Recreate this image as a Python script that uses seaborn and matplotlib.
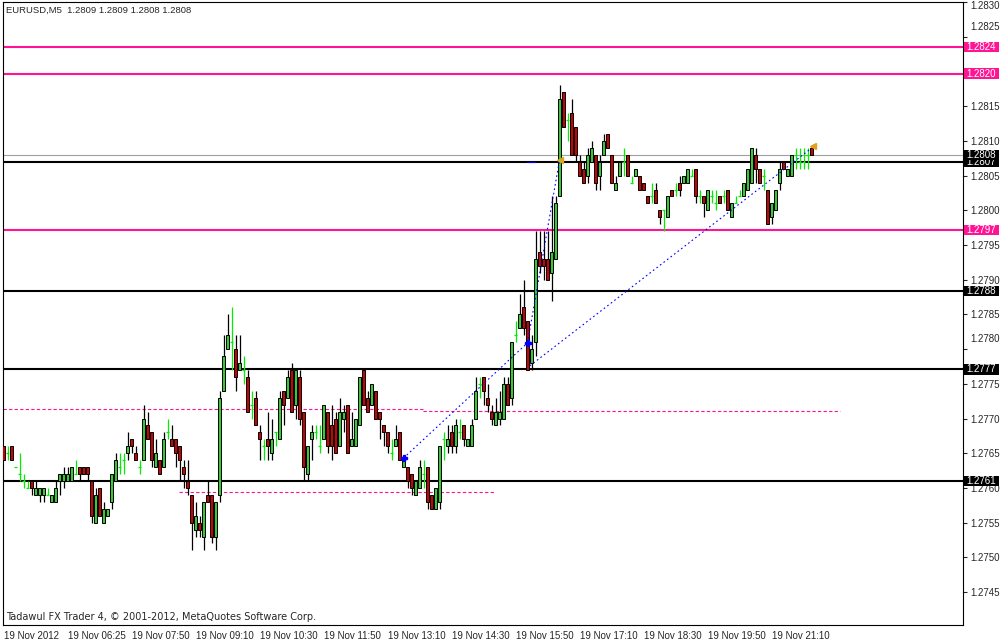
import numpy as np
import pandas as pd
import seaborn as sns
import matplotlib.pyplot as plt
from matplotlib.patches import Rectangle
from matplotlib.transforms import ScaledTranslation

# EURUSD M5, 19 Nov 2012 - one value per bar
opens = [1.2766, 1.2765, 1.2766, 1.2763, 1.2762, 1.2761, 1.2760, 1.2761, 1.2759, 1.2759,
         1.2759, 1.2759, 1.2758, 1.2758, 1.2761, 1.2761, 1.2761, 1.2761, 1.2762, 1.2763,
         1.2763, 1.2763, 1.2761, 1.2755, 1.2760, 1.2755, 1.2756, 1.2758, 1.2761, 1.2763,
         1.2764, 1.2765, 1.2767, 1.2765, 1.2763, 1.2764, 1.2769, 1.2768, 1.2763, 1.2764,
         1.2763, 1.2768, 1.2767, 1.2767, 1.2766, 1.2763, 1.2761, 1.2759, 1.2754, 1.2755,
         1.2753, 1.2759, 1.2759, 1.2753, 1.2759, 1.2774, 1.2780, 1.2781, 1.2780, 1.2777,
         1.2777, 1.2776, 1.2772, 1.2773, 1.2768, 1.2766, 1.2767, 1.2765, 1.2768, 1.2767,
         1.2774, 1.2773, 1.2777, 1.2772, 1.2776, 1.2771, 1.2762, 1.2767, 1.2768, 1.2766,
         1.2767, 1.2771, 1.2769, 1.2770, 1.2766, 1.2770, 1.2772, 1.2766, 1.2766, 1.2769,
         1.2777, 1.2773, 1.2772, 1.2774, 1.2771, 1.2769, 1.2768, 1.2765, 1.2766, 1.2768,
         1.2763, 1.2763, 1.2762, 1.2759, 1.2760, 1.2762, 1.2763, 1.2759, 1.2757, 1.2758,
         1.2767, 1.2766, 1.2768, 1.2766, 1.2768, 1.2769, 1.2766, 1.2766, 1.2770, 1.2775,
         1.2776, 1.2773, 1.2771, 1.2769, 1.2770, 1.2770, 1.2775, 1.2773, 1.2782, 1.2783,
         1.2786, 1.2784, 1.2778, 1.2781, 1.2794, 1.2793, 1.2793, 1.2791, 1.2793, 1.2802,
         1.2817, 1.2813, 1.2814, 1.2812, 1.2807, 1.2806, 1.2805, 1.2807, 1.2808, 1.2805,
         1.2808, 1.2811, 1.2808, 1.2803, 1.2805, 1.2807, 1.2808, 1.2804, 1.2805, 1.2805,
         1.2804, 1.2802, 1.2802, 1.2803, 1.2800, 1.2800, 1.2799, 1.2803, 1.2803, 1.2804,
         1.2804, 1.2804, 1.2805, 1.2806, 1.2802, 1.2802, 1.2800, 1.2802, 1.2801, 1.2802,
         1.2802, 1.2803, 1.2799, 1.2801, 1.2802, 1.2802, 1.2803, 1.2804, 1.2808, 1.2806,
         1.2805, 1.2803, 1.2799, 1.2800, 1.2804, 1.2807, 1.2805, 1.2805, 1.2808, 1.2807,
         1.2807, 1.2808, 1.2809]
highs = [1.2766, 1.2766, 1.2766, 1.2763, 1.2765, 1.2762, 1.2761, 1.2761, 1.2761, 1.2760,
         1.2760, 1.2760, 1.2759, 1.2761, 1.2762, 1.2763, 1.2763, 1.2763, 1.2764, 1.2763,
         1.2763, 1.2763, 1.2761, 1.2760, 1.2760, 1.2758, 1.2757, 1.2762, 1.2765, 1.2765,
         1.2765, 1.2768, 1.2767, 1.2766, 1.2764, 1.2772, 1.2771, 1.2768, 1.2767, 1.2764,
         1.2768, 1.2770, 1.2769, 1.2767, 1.2766, 1.2764, 1.2764, 1.2759, 1.2758, 1.2756,
         1.2758, 1.2761, 1.2759, 1.2758, 1.2774, 1.2782, 1.2785, 1.2786, 1.2782, 1.2782,
         1.2779, 1.2777, 1.2774, 1.2774, 1.2769, 1.2767, 1.2771, 1.2770, 1.2768, 1.2774,
         1.2774, 1.2777, 1.2778, 1.2777, 1.2777, 1.2771, 1.2766, 1.2769, 1.2769, 1.2769,
         1.2772, 1.2771, 1.2772, 1.2771, 1.2773, 1.2772, 1.2772, 1.2771, 1.2770, 1.2776,
         1.2777, 1.2774, 1.2775, 1.2774, 1.2771, 1.2769, 1.2768, 1.2767, 1.2769, 1.2768,
         1.2764, 1.2763, 1.2762, 1.2761, 1.2764, 1.2764, 1.2763, 1.2759, 1.2760, 1.2766,
         1.2768, 1.2769, 1.2769, 1.2770, 1.2770, 1.2769, 1.2767, 1.2770, 1.2776, 1.2776,
         1.2776, 1.2775, 1.2772, 1.2773, 1.2774, 1.2776, 1.2776, 1.2781, 1.2784, 1.2788,
         1.2790, 1.2784, 1.2782, 1.2797, 1.2797, 1.2797, 1.2797, 1.2802, 1.2802, 1.2818,
         1.2817, 1.2814, 1.2816, 1.2812, 1.2808, 1.2807, 1.2809, 1.2810, 1.2808, 1.2808,
         1.2811, 1.2811, 1.2808, 1.2805, 1.2807, 1.2809, 1.2808, 1.2805, 1.2806, 1.2805,
         1.2804, 1.2802, 1.2804, 1.2804, 1.2800, 1.2800, 1.2802, 1.2803, 1.2804, 1.2805,
         1.2805, 1.2806, 1.2806, 1.2806, 1.2803, 1.2802, 1.2803, 1.2803, 1.2803, 1.2802,
         1.2803, 1.2803, 1.2801, 1.2802, 1.2803, 1.2804, 1.2806, 1.2809, 1.2809, 1.2806,
         1.2806, 1.2803, 1.2801, 1.2803, 1.2807, 1.2807, 1.2806, 1.2808, 1.2809, 1.2809,
         1.2809, 1.2809, 1.2809]
lows = [1.2764, 1.2764, 1.2764, 1.2763, 1.2761, 1.2760, 1.2760, 1.2759, 1.2759, 1.2758,
        1.2758, 1.2759, 1.2758, 1.2758, 1.2759, 1.2760, 1.2761, 1.2761, 1.2762, 1.2761,
        1.2762, 1.2761, 1.2755, 1.2755, 1.2756, 1.2755, 1.2756, 1.2757, 1.2761, 1.2762,
        1.2762, 1.2764, 1.2765, 1.2764, 1.2762, 1.2764, 1.2767, 1.2763, 1.2763, 1.2762,
        1.2763, 1.2767, 1.2766, 1.2763, 1.2761, 1.2760, 1.2759, 1.2751, 1.2753, 1.2753,
        1.2751, 1.2758, 1.2752, 1.2751, 1.2758, 1.2774, 1.2780, 1.2777, 1.2774, 1.2777,
        1.2775, 1.2771, 1.2770, 1.2769, 1.2764, 1.2764, 1.2764, 1.2764, 1.2766, 1.2767,
        1.2769, 1.2773, 1.2771, 1.2770, 1.2769, 1.2761, 1.2761, 1.2764, 1.2767, 1.2765,
        1.2767, 1.2765, 1.2764, 1.2765, 1.2766, 1.2768, 1.2765, 1.2766, 1.2766, 1.2769,
        1.2772, 1.2771, 1.2772, 1.2770, 1.2767, 1.2766, 1.2765, 1.2764, 1.2766, 1.2764,
        1.2763, 1.2760, 1.2759, 1.2759, 1.2760, 1.2760, 1.2757, 1.2757, 1.2757, 1.2757,
        1.2764, 1.2765, 1.2765, 1.2765, 1.2767, 1.2766, 1.2766, 1.2766, 1.2770, 1.2773,
        1.2772, 1.2771, 1.2769, 1.2769, 1.2769, 1.2770, 1.2772, 1.2772, 1.2781, 1.2783,
        1.2782, 1.2777, 1.2777, 1.2779, 1.2791, 1.2790, 1.2790, 1.2787, 1.2793, 1.2802,
        1.2812, 1.2810, 1.2808, 1.2807, 1.2805, 1.2804, 1.2804, 1.2807, 1.2803, 1.2803,
        1.2808, 1.2809, 1.2804, 1.2803, 1.2805, 1.2805, 1.2805, 1.2804, 1.2805, 1.2803,
        1.2803, 1.2801, 1.2801, 1.2801, 1.2798, 1.2797, 1.2799, 1.2802, 1.2802, 1.2802,
        1.2804, 1.2804, 1.2805, 1.2801, 1.2801, 1.2799, 1.2800, 1.2801, 1.2800, 1.2801,
        1.2801, 1.2800, 1.2799, 1.2801, 1.2802, 1.2802, 1.2803, 1.2804, 1.2804, 1.2804,
        1.2803, 1.2798, 1.2798, 1.2800, 1.2803, 1.2806, 1.2805, 1.2805, 1.2806, 1.2806,
        1.2806, 1.2806, 1.2808]
closes = [1.2764, 1.2765, 1.2764, 1.2763, 1.2762, 1.2761, 1.2760, 1.2760, 1.2760, 1.2760,
          1.2760, 1.2759, 1.2759, 1.2760, 1.2762, 1.2762, 1.2762, 1.2763, 1.2762, 1.2762,
          1.2762, 1.2762, 1.2756, 1.2759, 1.2756, 1.2757, 1.2757, 1.2762, 1.2764, 1.2763,
          1.2764, 1.2766, 1.2766, 1.2764, 1.2763, 1.2770, 1.2767, 1.2764, 1.2765, 1.2762,
          1.2767, 1.2768, 1.2766, 1.2765, 1.2764, 1.2762, 1.2760, 1.2755, 1.2756, 1.2754,
          1.2758, 1.2758, 1.2753, 1.2758, 1.2773, 1.2779, 1.2782, 1.2781, 1.2776, 1.2778,
          1.2777, 1.2771, 1.2772, 1.2769, 1.2767, 1.2766, 1.2766, 1.2767, 1.2768, 1.2773,
          1.2772, 1.2776, 1.2771, 1.2777, 1.2770, 1.2763, 1.2766, 1.2768, 1.2768, 1.2766,
          1.2772, 1.2766, 1.2766, 1.2765, 1.2771, 1.2771, 1.2765, 1.2767, 1.2770, 1.2776,
          1.2772, 1.2771, 1.2775, 1.2770, 1.2770, 1.2768, 1.2766, 1.2765, 1.2767, 1.2764,
          1.2764, 1.2761, 1.2760, 1.2761, 1.2763, 1.2762, 1.2758, 1.2757, 1.2760, 1.2766,
          1.2767, 1.2767, 1.2766, 1.2769, 1.2768, 1.2767, 1.2767, 1.2769, 1.2774, 1.2775,
          1.2774, 1.2772, 1.2770, 1.2771, 1.2771, 1.2775, 1.2772, 1.2781, 1.2782, 1.2785,
          1.2783, 1.2777, 1.2780, 1.2793, 1.2792, 1.2792, 1.2790, 1.2794, 1.2801, 1.2816,
          1.2812, 1.2813, 1.2808, 1.2808, 1.2805, 1.2804, 1.2808, 1.2809, 1.2804, 1.2807,
          1.2810, 1.2809, 1.2804, 1.2804, 1.2807, 1.2807, 1.2805, 1.2804, 1.2806, 1.2803,
          1.2803, 1.2801, 1.2802, 1.2801, 1.2799, 1.2800, 1.2802, 1.2802, 1.2803, 1.2803,
          1.2805, 1.2806, 1.2805, 1.2802, 1.2802, 1.2801, 1.2803, 1.2802, 1.2801, 1.2801,
          1.2802, 1.2800, 1.2801, 1.2801, 1.2802, 1.2804, 1.2806, 1.2809, 1.2806, 1.2804,
          1.2805, 1.2798, 1.2801, 1.2803, 1.2806, 1.2806, 1.2806, 1.2808, 1.2808, 1.2807,
          1.2807, 1.2808, 1.2808]

# time axis labels, one every 16 bars
time_labels = ["19 Nov 2012", "19 Nov 06:25", "19 Nov 07:50", "19 Nov 09:10", "19 Nov 10:30",
               "19 Nov 11:50", "19 Nov 13:10", "19 Nov 14:30", "19 Nov 15:50", "19 Nov 17:10",
               "19 Nov 18:30", "19 Nov 19:50", "19 Nov 21:10"]

# horizontal levels
pink_levels = [1.28235, 1.28197, 1.27972]
pink_labels = ["1.2824", "1.2820", "1.2797"]
black_levels = [1.2807, 1.27884, 1.27771, 1.2761]
black_labels = ["1.2807", "1.2788", "1.2777", "1.2761"]
bid_price = 1.2808

# short dashed pink levels: price, first bar, last bar
dash_prices = [1.27714, 1.27711, 1.27594]
dash_from = [-0.2, 104.9, 43.8]
dash_to = [104.9, 209.1, 122.9]

# blue trend lines
zig_bars = [100, 131, 139]
zig_prices = [1.27643, 1.27809, 1.28072]
trend_bars = [131.6, 202.1]
trend_prices = [1.27776, 1.28090]
stub_bars = [130.9, 132.9]
stub_prices = [1.2807, 1.2807]
arrow_bars = [139.2, 202.3]
arrow_prices = [1.28072, 1.28092]

header = "EURUSD,M5  1.2809 1.2809 1.2808 1.2808"
footer = "Tadawul FX Trader 4, \u00a9 2001-2012, MetaQuotes Software Corp."

sns.set_style("white")
plt.rcParams['font.family'] = ['Liberation Sans', 'DejaVu Sans']

W, H = 1000, 642
fig = plt.figure(figsize=(W / 100, H / 100), dpi=100)
ax = fig.add_axes([3 / W, 1 - 625 / H, 960 / W, 623 / H])

df = pd.DataFrame({"open": opens, "high": highs, "low": lows, "close": closes})
df["bar"] = np.arange(len(df))
up = df[df.close > df.open + 1e-9]
down = df[df.close < df.open - 1e-9]
doji = df[(df.close - df.open).abs() <= 1e-9]

GREEN = "#33cc33"
RED = "#cc0000"
LIME = "#00ee00"
PINK = "#ff1493"
BLUE = "#0000ff"

# horizontal levels
for p in pink_levels:
    ax.axhline(p, color=PINK, lw=1.5, zorder=1)
for p in black_levels:
    ax.axhline(p, color="black", lw=1.5, zorder=1)
ax.axhline(bid_price, color="#a0a0a0", lw=0.8, zorder=1)

for p, a, b in zip(dash_prices, dash_from, dash_to):
    sns.lineplot(x=[a, b], y=[p, p], ax=ax, color=PINK, lw=0.8,
                 linestyle=(0, (3, 2)), sort=False, estimator=None, zorder=2)

# candles
nd = pd.concat([up, down])
ax.vlines(nd.bar, nd.low, nd.high, color="black", lw=0.9, zorder=3)
ax.bar(up.bar, up.close - up.open, bottom=up.open, width=0.62,
       color=GREEN, edgecolor="black", lw=0.7, zorder=4)
ax.bar(down.bar, down.open - down.close, bottom=down.close, width=0.62,
       color=RED, edgecolor="black", lw=0.7, zorder=4)
ax.vlines(doji.bar, doji.low, doji.high, color=LIME, lw=0.9, zorder=3)
ax.hlines(doji.open, doji.bar - 0.45, doji.bar + 0.45, color=LIME, lw=0.9, zorder=3)

# blue trend lines
sns.lineplot(x=zig_bars, y=zig_prices, ax=ax, color=BLUE, lw=0.8,
             linestyle=(0, (1.5, 2.5)), sort=False, estimator=None, zorder=5)
sns.lineplot(x=trend_bars, y=trend_prices, ax=ax, color=BLUE, lw=0.8,
             linestyle=(0, (1.5, 2.5)), sort=False, estimator=None, zorder=5)
ax.plot(stub_bars, stub_prices, color=BLUE, lw=0.8, zorder=5)
ax.plot(zig_bars[:2], zig_prices[:2], "P", color=BLUE, ms=4, zorder=6)
ax.plot(arrow_bars, arrow_prices, "<", color="#e0a020", ms=5, zorder=6)

ax.set_xlim(-0.125, 239.875)
ax.set_ylim(1.274025, 1.283002)

# axes and ticks
for s in ax.spines.values():
    s.set_visible(True)
    s.set_color("black")
    s.set_linewidth(0.8)

ax.set_xticks(np.arange(len(time_labels)) * 16)
ax.set_xticklabels(time_labels, ha="left", fontsize=7)
ax.tick_params(axis="x", direction="out", length=3, width=0.8, pad=1)

ax.yaxis.tick_right()
yt = [1.2745 + 0.0005 * k for k in range(18)]
ax.set_yticks(yt)
ax.set_yticklabels(["" if abs(t - 1.2820) < 1e-6 else f"{t:.4f}" for t in yt], fontsize=7)
ax.tick_params(axis="y", direction="out", length=3, width=0.8, pad=2)
ax.set_xlabel("")
ax.set_ylabel("")

# the terminal nudges labels that would sit under a price tag
shifts = {"1.2825": 11, "1.2780": 11, "1.2830": -3}
for lab in ax.get_yticklabels():
    dy = shifts.get(lab.get_text())
    if dy:
        lab.set_transform(lab.get_transform() + ScaledTranslation(0, dy / 100, fig.dpi_scale_trans))

# price tags on the right
tr = ax.get_yaxis_transform()
tag_w = 35 / 960
tag_h = 10.5 / 69400


def tag(price, text, colour, z):
    ax.add_patch(Rectangle((1.0 + 1 / 960, price - tag_h / 2), tag_w, tag_h, transform=tr,
                           facecolor=colour, edgecolor="none", clip_on=False, zorder=z))
    ax.text(1.0 + 1 / 960 + tag_w / 2, price, text, transform=tr, color="white", fontsize=7,
            ha="center", va="center", clip_on=False, zorder=z + 0.5)


for p, lab in zip(pink_levels, pink_labels):
    tag(p, lab, PINK, 10)
for p, lab in zip(black_levels, black_labels):
    tag(p, lab, "black", 10)
tag(bid_price, f"{bid_price:.4f}", "black", 12)

fig.text(6 / W, 1 - 10 / H, header, fontsize=6.8, va="center", ha="left")
fig.text(6 / W, 1 - 617 / H, footer, fontsize=7, va="center", ha="left", family="DejaVu Sans")

fig.savefig("out.png", dpi=100, facecolor="white")
